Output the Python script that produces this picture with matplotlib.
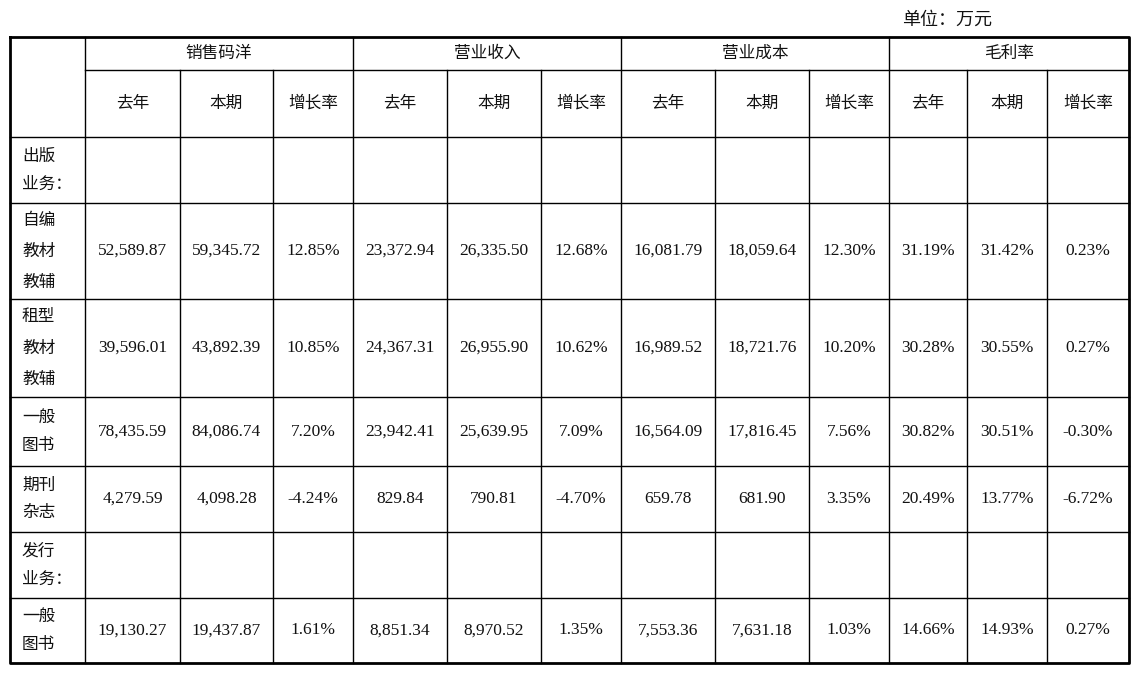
import matplotlib
matplotlib.use("Agg")
import matplotlib.pyplot as plt

groups = ["销售码洋", "营业收入", "营业成本", "毛利率"]
subcols = ["去年", "本期", "增长率"]
row_labels = [["出版", "业务："], ["自编", "教材", "教辅"], ["租型", "教材", "教辅"],
              ["一般", "图书"], ["期刊", "杂志"], ["发行", "业务："], ["一般", "图书"]]
rows = [
    [""] * 12,
    ["52,589.87", "59,345.72", "12.85%", "23,372.94", "26,335.50", "12.68%", "16,081.79", "18,059.64", "12.30%", "31.19%", "31.42%", "0.23%"],
    ["39,596.01", "43,892.39", "10.85%", "24,367.31", "26,955.90", "10.62%", "16,989.52", "18,721.76", "10.20%", "30.28%", "30.55%", "0.27%"],
    ["78,435.59", "84,086.74", "7.20%", "23,942.41", "25,639.95", "7.09%", "16,564.09", "17,816.45", "7.56%", "30.82%", "30.51%", "-0.30%"],
    ["4,279.59", "4,098.28", "-4.24%", "829.84", "790.81", "-4.70%", "659.78", "681.90", "3.35%", "20.49%", "13.77%", "-6.72%"],
    [""] * 12,
    ["19,130.27", "19,437.87", "1.61%", "8,851.34", "8,970.52", "1.35%", "7,553.36", "7,631.18", "1.03%", "14.66%", "14.93%", "0.27%"],
]
unit = "单位：万元"

W, H = 1139, 674
fig = plt.figure(figsize=(W / 100, H / 100), dpi=100)
ax = fig.add_axes([0, 0, 1, 1])
ax.set_xlim(0, W); ax.set_ylim(H, 0); ax.axis("off")

xs = [10, 85, 180, 273, 353, 447, 541, 621, 715, 809, 889, 967, 1047, 1129]
ys = [37, 70, 137, 203, 299, 397, 466, 532, 598, 663]
cjk = dict(family="Noto Sans CJK SC", fontsize=12, color="#111")
num = dict(family="Liberation Serif", fontsize=12.5, color="#111")
lw = 1.0

ax.plot([xs[0], xs[-1], xs[-1], xs[0], xs[0]], [ys[0], ys[0], ys[-1], ys[-1], ys[0]], color="k", lw=2)
for i, x in enumerate(xs[1:-1], start=1):
    top = ys[0] if (i - 1) % 3 == 0 else ys[1]
    ax.plot([x, x], [top, ys[-1]], color="k", lw=lw)
ax.plot([xs[1], xs[-1]], [ys[1], ys[1]], color="k", lw=lw)
for y in ys[2:-1]:
    ax.plot([xs[0], xs[-1]], [y, y], color="k", lw=lw)

ax.text(992, 20, unit, ha="right", va="center", family="Noto Sans CJK SC", fontsize=13, color="#111")
for g, name in enumerate(groups):
    ax.text((xs[1 + 3 * g] + xs[4 + 3 * g]) / 2, (ys[0] + ys[1]) / 2, name, ha="center", va="center", **cjk)
    for s, sub in enumerate(subcols):
        c = 1 + 3 * g + s
        ax.text((xs[c] + xs[c + 1]) / 2, (ys[1] + ys[2]) / 2, sub, ha="center", va="center", **cjk)

for r, (lab, vals) in enumerate(zip(row_labels, rows)):
    y0, y1 = ys[2 + r], ys[3 + r]
    yc = (y0 + y1) / 2
    n = len(lab)
    step = 31 if n == 3 else 28
    for k, t in enumerate(lab):
        ax.text(22, yc + (k - (n - 1) / 2) * step, t, ha="left", va="center", **cjk)
    for c, v in enumerate(vals):
        ax.text((xs[1 + c] + xs[2 + c]) / 2, yc, v, ha="center", va="center", **num)

fig.savefig("out.png", dpi=100)
